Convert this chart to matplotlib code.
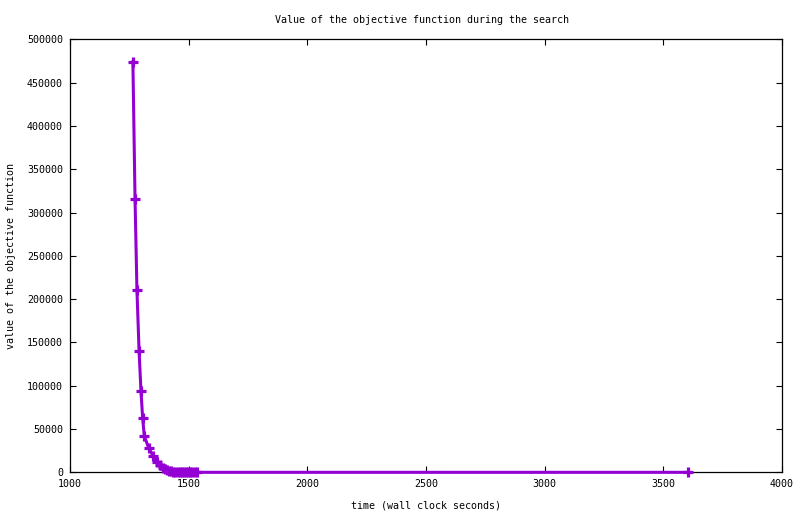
"""Objective function value over wall clock time (gnuplot-style)."""

import matplotlib
matplotlib.use("Agg")
import matplotlib.pyplot as plt

# wall clock seconds at each reported solution
times = [
    1265, 1274, 1282, 1291, 1299, 1306, 1313, 1332, 1350, 1365,
    1379, 1390, 1399, 1408, 1417, 1426, 1435, 1444, 1453, 1462,
    1471, 1480, 1489, 1498, 1507, 1516, 1525, 1537, 3605,
]
# objective value
objective = [
    474000, 316000, 211000, 140500, 94000, 63000, 42000, 27800, 19000, 12300,
    8400, 5500, 3700, 2500, 1650, 1100, 730, 490, 330, 220,
    145, 100, 65, 43, 29, 19, 13, 9, 0,
]

x_ticks = [1000, 1500, 2000, 2500, 3000, 3500, 4000]
y_ticks = list(range(0, 500001, 50000))

LINE_COLOR = "#9400d3"
FONT = "DejaVu Sans Mono"
FS = 7.2

fig = plt.figure(figsize=(8.0, 5.14), dpi=100)
ax = fig.add_axes([0.0875, 0.0811, 0.89, 0.8424])

ax.plot(times, objective, color=LINE_COLOR, linewidth=2.2,
        marker="+", markersize=7, markeredgewidth=2.3,
        solid_joinstyle="miter", clip_on=False, zorder=3)

ax.set_xlim(1000, 4000)
ax.set_ylim(0, 500000)
ax.set_xticks(x_ticks)
ax.set_yticks(y_ticks)
ax.set_xticklabels([str(v) for v in x_ticks], family=FONT, fontsize=FS)
ax.set_yticklabels([str(v) for v in y_ticks], family=FONT, fontsize=FS)
ax.tick_params(direction="in", length=4.5, width=0.8, top=True, right=True,
               pad=5, colors="black")
for side in ax.spines.values():
    side.set_linewidth(0.9)
    side.set_color("black")

ax.set_xlabel("time (wall clock seconds)", family=FONT, fontsize=FS, labelpad=8)
ax.set_ylabel("value of the objective function", family=FONT, fontsize=FS,
              labelpad=8)
fig.text(0.528, 0.962, "Value of the objective function during the search",
         family=FONT, fontsize=FS, ha="center", va="center")

fig.savefig("out.png", dpi=100)
